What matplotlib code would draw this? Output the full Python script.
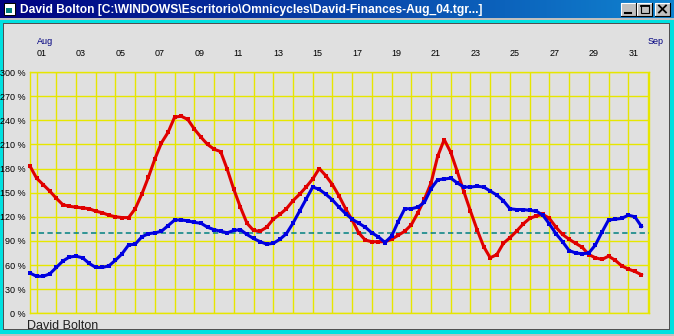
import numpy as np
import matplotlib
matplotlib.use("Agg")
import matplotlib.pyplot as plt
from matplotlib.patches import Rectangle
from matplotlib.colors import LinearSegmentedColormap
import matplotlib.transforms as mtransforms

# ---------------- data ----------------
title_text = "David Bolton [C:\\WINDOWS\\Escritorio\\Omnicycles\\David-Finances-Aug_04.tgr...]"
footer_text = "David Bolton"
month_labels = ["Aug", "Sep"]
month_days = [1, 32]
day_ticks = list(range(1, 32, 2))
day_tick_labels = [f"{d:02d}" for d in day_ticks]
pct_ticks = list(range(0, 301, 30))
pct_tick_labels = [f"{p} %" for p in pct_ticks]
reference_level = 100

# readings every 8 hours, first reading at day 0.667 (Jul 31, 16:00)
t_start = 2 / 3
t_step = 1 / 3

red = [183, 168, 160, 152, 143, 135, 133, 132, 131, 130,
       127, 125, 122, 120, 119, 119, 130, 148, 169, 192,
       212, 225, 244, 245, 241, 229, 219, 210, 204, 201,
       179, 154, 132, 112, 103, 102, 107, 117, 123, 130,
       140, 148, 157, 167, 180, 171, 160, 146, 130, 116,
       100, 91, 89, 89, 89, 92, 97, 102, 110, 125,
       142, 162, 195, 216, 200, 176, 151, 127, 104, 83,
       69, 73, 87, 94, 102, 111, 118, 121, 123, 118,
       107, 98, 92, 87, 82, 73, 69, 67, 71, 66,
       59, 55, 52, 48]

blue = [50, 46, 46, 49, 57, 65, 70, 71, 69, 62,
        57, 57, 59, 66, 74, 85, 86, 95, 99, 100,
        102, 109, 116, 116, 115, 113, 112, 107, 104, 102,
        100, 103, 104, 98, 93, 89, 86, 87, 92, 99,
        112, 127, 142, 157, 154, 148, 141, 132, 124, 117,
        112, 107, 100, 95, 88, 96, 114, 130, 130, 132,
        138, 155, 166, 167, 168, 162, 157, 157, 158, 157,
        152, 147, 140, 130, 129, 129, 128, 127, 122, 111,
        99, 89, 78, 75, 74, 75, 85, 101, 116, 117,
        118, 122, 120, 108]

days = t_start + t_step * np.arange(len(red))

# ---------------- figure ----------------
W, H = 674, 336
fig = plt.figure(figsize=(W / 100, H / 100), dpi=100, facecolor="#c0c0c0")

bg = fig.add_axes([0, 0, 1, 1])
bg.set_zorder(0)
bg.axis("off")

# title bar gradient
cmap = LinearSegmentedColormap.from_list("tb", ["#000080", "#1084d0"])
grad = np.linspace(0, 1, 256).reshape(1, -1)
bg.imshow(grad, cmap=cmap, extent=[0, W, 18, 0], aspect="auto", interpolation="bilinear")

# window frame
bg.add_patch(Rectangle((0, 20), W, 313.5, fc="#00e0e0", ec="none"))
bg.add_patch(Rectangle((3, 23), 667, 307, fc="#505050", ec="none"))
bg.add_patch(Rectangle((4, 24), 665, 305, fc="#e0e0e0", ec="none"))

# icon
bg.add_patch(Rectangle((4, 3), 11, 12, fc="#ffffff", ec="#000000", lw=0.7))
bg.add_patch(Rectangle((6, 8), 6, 5, fc="#008080", ec="none"))

# title buttons
for bx, glyph in [(621, "min"), (637, "max"), (655, "close")]:
    bg.add_patch(Rectangle((bx, 3), 15, 13, fc="#c0c0c0", ec="none"))
    bg.plot([bx, bx, bx + 15], [16, 3, 3], color="#ffffff", lw=0.8)
    bg.plot([bx, bx + 15, bx + 15], [16, 16, 3], color="#000000", lw=0.8)
    if glyph == "min":
        bg.plot([bx + 4, bx + 10], [13, 13], color="#000000", lw=1.5)
    elif glyph == "max":
        bg.add_patch(Rectangle((bx + 3.5, 5), 8, 8, fc="none", ec="#000000", lw=0.8))
        bg.plot([bx + 3.5, bx + 11.5], [5.7, 5.7], color="#000000", lw=1.3)
    else:
        bg.plot([bx + 4, bx + 11], [5.5, 12.5], color="#000000", lw=1.3)
        bg.plot([bx + 4, bx + 11], [12.5, 5.5], color="#000000", lw=1.3)

bg.set_xlim(0, W)
bg.set_ylim(H, 0)

# title text fitted to width
tt = bg.text(20.5, 9.5, title_text, color="white", fontsize=8, fontweight="bold",
             family="Liberation Sans", ha="left", va="center")
fig.canvas.draw()
wpx = tt.get_window_extent().width
tt.set_fontsize(8 * 465 / wpx)

bg.text(27, 329, footer_text, fontsize=9, family="Liberation Sans",
        color="#202020", ha="left", va="baseline", zorder=5)

# ---------------- main chart ----------------
x0, x1 = 30, 649
y0, y1 = 72, 313.3
ax = fig.add_axes([x0 / W, (H - y1) / H, (x1 - x0) / W, (y1 - y0) / H])
ax.set_zorder(1)
ax.set_facecolor("#e0e0e0")
grid_col = "#e6e600"

ax.set_xlim(t_start, 32.05)
ax.set_ylim(0, 300)

ax.set_xticks(day_ticks)
ax.set_xticklabels(day_tick_labels)
ax.set_xticks([d for d in range(2, 33, 2)], minor=True)
ax.set_yticks(pct_ticks)
ax.set_yticklabels(pct_tick_labels)
ax.xaxis.set_ticks_position("top")
ax.tick_params(axis="x", which="both", length=0, pad=10.2, labelsize=6.5, labelcolor="black")
ax.tick_params(axis="y", which="both", length=0, pad=3.2, labelsize=6.5, labelcolor="black")
for lab in ax.get_xticklabels():
    lab.set_ha("left")
    lab.set_family("Liberation Sans")
for lab in ax.get_yticklabels():
    lab.set_family("Liberation Sans")

ax.grid(True, which="both", color=grid_col, lw=1.0)
for s in ax.spines.values():
    s.set_color(grid_col)
    s.set_linewidth(1.0)

ax.axhline(reference_level, color="#008080", lw=1.1, dashes=(3.5, 2.2), zorder=2)

ax.plot(days, red, color="#e00000", lw=2.2, marker="s", ms=3.5, mew=0, zorder=3,
        clip_on=False)
ax.plot(days, blue, color="#0000e0", lw=2.2, marker="s", ms=3.5, mew=0, zorder=4,
        clip_on=False)

blend = mtransforms.blended_transform_factory(ax.transData, bg.transData)
for lbl, d in zip(month_labels, month_days):
    ax.text(d, 44, lbl, transform=blend, fontsize=6.5, family="Liberation Sans",
            color="#000080", ha="left", va="baseline", clip_on=False)

fig.savefig("out.png", dpi=100, facecolor=fig.get_facecolor())
